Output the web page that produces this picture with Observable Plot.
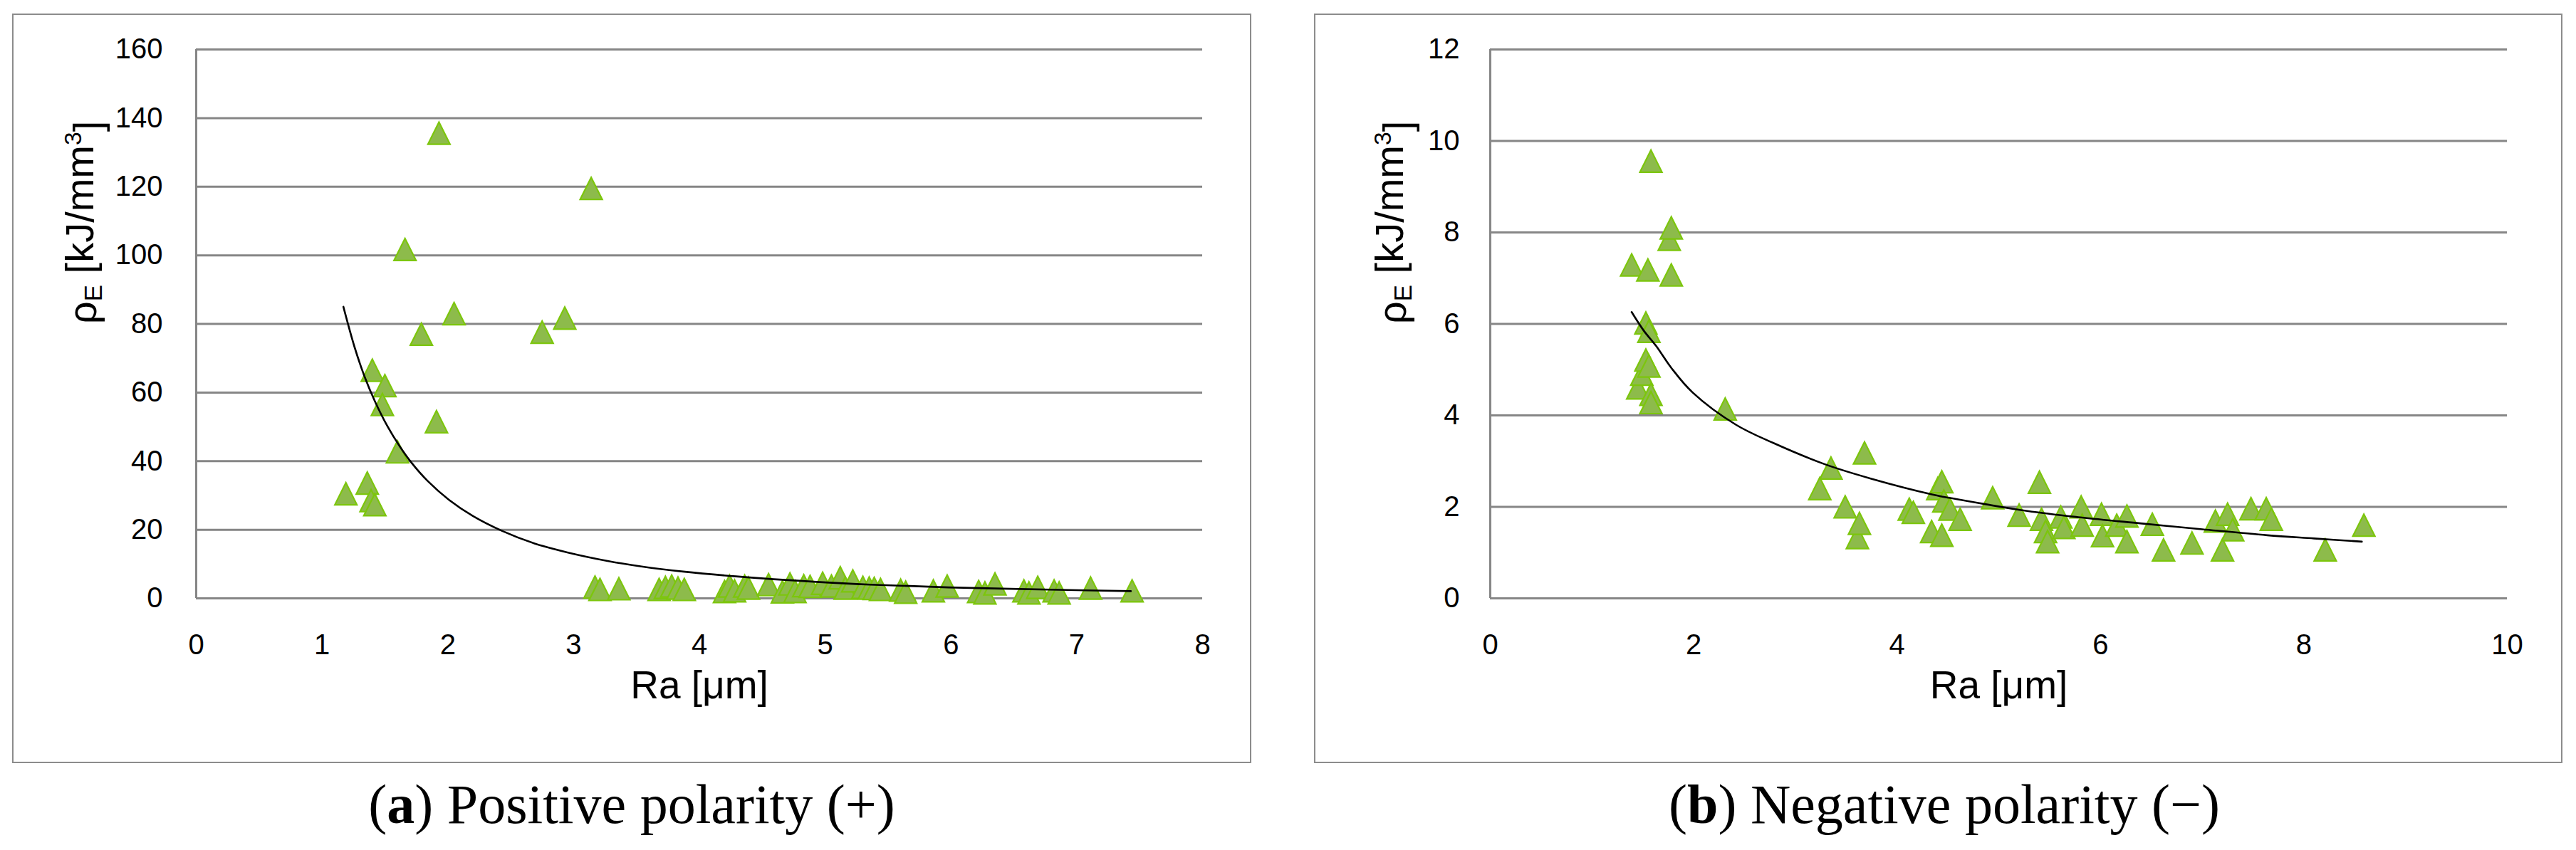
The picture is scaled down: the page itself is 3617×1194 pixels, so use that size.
<!DOCTYPE html>
<html><head><meta charset="utf-8">
<script src="https://cdn.jsdelivr.net/npm/d3@7"></script>
<script src="https://cdn.jsdelivr.net/npm/@observablehq/plot@0.6"></script>
<style>
body{margin:0;background:#fff;width:3617px;height:1194px;position:relative;overflow:hidden;font-family:"Liberation Sans",sans-serif}
.panel{position:absolute;top:0}
.box{position:absolute;border:2.5px solid #8c8c8c;box-sizing:border-box;pointer-events:none}
.cap{position:absolute;font-family:"Liberation Serif",serif;font-size:78px;line-height:78px;color:#000;white-space:nowrap;transform:translateX(-50%)}
</style></head><body>
<div id="pa" class="panel" style="left:0px"></div>
<div id="pb" class="panel" style="left:1800px"></div>
<div class="box" style="left:17px;top:19px;width:1740px;height:1053px"></div>
<div class="box" style="left:1845px;top:19px;width:1753px;height:1053px"></div>
<div class="cap" style="left:887px;top:1091px">(<b>a</b>) Positive polarity (+)</div>
<div class="cap" style="left:2730px;top:1091px">(<b>b</b>) Negative polarity (−)</div>
<script>
// ---- Panel (a): positive polarity ----
const raA = [1.19,1.36,1.39,1.42,1.40,1.50,1.48,1.60,1.66,1.79,1.91,1.93,2.05,2.75,2.93,3.14,
  3.17,3.21,3.36,3.68,3.73,3.78,3.83,3.88,4.20,4.24,4.28,4.36,4.39,4.55,4.66,4.72,4.76,4.83,4.88,
  4.98,5.05,5.12,5.16,5.22,5.30,5.35,5.39,5.44,5.60,5.64,5.86,5.97,6.22,6.27,6.35,6.58,6.62,6.69,
  6.82,6.86,7.11,7.44];
const rhoA = [30.5,33.6,28.5,27.3,66.5,62.0,56.5,42.7,101.7,77.0,51.5,135.6,83.0,77.6,81.7,119.5,
  3.3,2.6,2.8,2.6,3.2,3.6,3.0,2.6,2.0,3.6,2.2,3.6,3.0,4.0,1.9,4.2,2.0,3.7,3.5,
  4.4,3.6,6.0,3.0,5.1,3.2,3.0,2.9,2.6,2.4,1.8,2.2,3.6,2.0,1.6,4.2,2.2,1.6,3.2,
  2.2,1.6,3.0,2.2];
const trendA_ra  = [1.17,1.26,1.34,1.42,1.52,1.62,1.71,1.84,2.01,2.20,2.43,2.69,2.95,3.27,3.54,3.87,4.29,4.93,5.36,5.98,6.86,7.43];
const trendA_rho = [85.0,73.1,64.5,57.5,50.2,44.2,39.6,34.2,28.7,24.0,19.7,16.0,13.4,10.9,9.3,7.8,6.4,4.8,4.0,3.2,2.5,2.1];
const xTicksA = [0,1,2,3,4,5,6,7,8];
const yTicksA = [0,20,40,60,80,100,120,140,160];

// ---- Panel (b): negative polarity ----
const raB = [1.39,1.45,1.49,1.53,1.53,1.55,1.56,1.56,1.58,1.58,1.58,1.76,1.78,1.78,2.31,
  3.24,3.35,3.49,3.61,3.63,3.68,4.12,4.16,4.34,4.40,4.44,4.44,4.46,4.52,4.62,4.94,5.20,
  5.40,5.42,5.46,5.48,5.61,5.64,5.81,5.82,6.01,6.02,6.16,6.26,6.26,6.51,6.62,6.90,7.13,
  7.20,7.25,7.30,7.48,7.63,7.68,8.21,8.59];
const rhoB = [7.29,4.60,4.90,6.02,5.21,7.18,5.84,5.08,9.56,4.46,4.28,7.85,8.10,7.07,4.14,
  2.40,2.85,2.00,1.33,1.64,3.18,1.95,1.88,1.46,2.40,2.55,1.38,2.13,1.95,1.73,2.20,1.82,
  2.54,1.73,1.46,1.24,1.78,1.55,2.00,1.60,1.84,1.37,1.60,1.80,1.24,1.62,1.06,1.21,1.69,
  1.06,1.84,1.50,1.96,1.96,1.73,1.06,1.60];
const trendB_ra  = [1.39,1.51,1.63,1.78,1.99,2.42,2.78,3.28,3.74,4.35,4.61,5.28,5.80,6.39,7.00,7.64,8.10,8.57];
const trendB_rho = [6.26,5.85,5.52,5.04,4.50,3.79,3.40,2.94,2.62,2.27,2.16,1.91,1.77,1.64,1.51,1.38,1.31,1.24];
const xTicksB = [0,2,4,6,8,10];
const yTicksB = [0,2,4,6,8,10,12];

const xTitle = "Ra [μm]";
const yTitle = "ρE [kJ/mm3]";

const gridColor = "#868686";
const fillGreen = "#8dbb4b";
const strokeGreen = "#7cc60c";

// Excel-like triangle marker: bounding box centred on the data point
const tri = {draw(ctx, size) {
  const h = Math.sqrt(size);
  ctx.moveTo(0, -h / 2); ctx.lineTo(h / 2, h / 2); ctx.lineTo(-h / 2, h / 2); ctx.closePath();
}};

function panel({ra, rho, tra, trho, xTicks, yTicks, width, ml, mr, tickPadY, titleDx}) {
  const pts = ra.map((d, i) => ({x: d, y: rho[i]}));
  const trend = tra.map((d, i) => ({x: d, y: trho[i]}));
  const svg = Plot.plot({
    width, height: 1080,
    marginLeft: ml, marginRight: mr, marginTop: 69, marginBottom: 240,
    style: {background: "transparent", fontFamily: "Liberation Sans, sans-serif", fontSize: "40px", color: "#000", overflow: "visible"},
    x: {domain: [xTicks[0], xTicks[xTicks.length - 1]]},
    y: {domain: [yTicks[0], yTicks[yTicks.length - 1]]},
    marks: [
      Plot.gridY(yTicks, {stroke: gridColor, strokeOpacity: 1, strokeWidth: 3}),
      Plot.ruleX([xTicks[0]], {stroke: gridColor, strokeWidth: 3}),
      Plot.axisY(yTicks, {tickSize: 0, tickPadding: tickPadY, label: null, fill: "#000", tickFormat: d3.format("d")}),
      Plot.axisX(xTicks, {tickSize: 0, tickPadding: 50, label: null, fill: "#000", tickFormat: d3.format("d")}),
      Plot.dot(pts, {x: "x", y: "y", symbol: tri, r: 17.5, fill: fillGreen, fillOpacity: 1, stroke: strokeGreen, strokeWidth: 2.2}),
      Plot.line(trend, {x: "x", y: "y", stroke: "#000", strokeWidth: 2.6, curve: "catmull-rom"}),
      Plot.text([xTitle], {frameAnchor: "bottom", dy: 140, fontSize: 55, fill: "#000"}),
      Plot.text([yTitle], {frameAnchor: "left", dx: titleDx, rotate: -90, fontSize: 56, fill: "#000"})
    ]
  });
  svg.querySelectorAll("text").forEach(t => {
    if (t.textContent === yTitle) {
      t.innerHTML = 'ρ<tspan font-size="0.62em" dy="0.22em">E</tspan><tspan dy="-0.22em"> [kJ/mm</tspan><tspan font-size="0.6em" dy="-0.5em">3</tspan><tspan dy="0.5em">]</tspan>';
    }
  });
  return svg;
}

document.getElementById("pa").appendChild(panel({ra: raA, rho: rhoA, tra: trendA_ra, trho: trendA_rho,
  xTicks: xTicksA, yTicks: yTicksA, width: 1780, ml: 275, mr: 92, tickPadY: 47, titleDx: -158}));
document.getElementById("pb").appendChild(panel({ra: raB, rho: rhoB, tra: trendB_ra, trho: trendB_rho,
  xTicks: xTicksB, yTicks: yTicksB, width: 1817, ml: 292, mr: 97, tickPadY: 43, titleDx: -136}));
</script>
</body></html>
